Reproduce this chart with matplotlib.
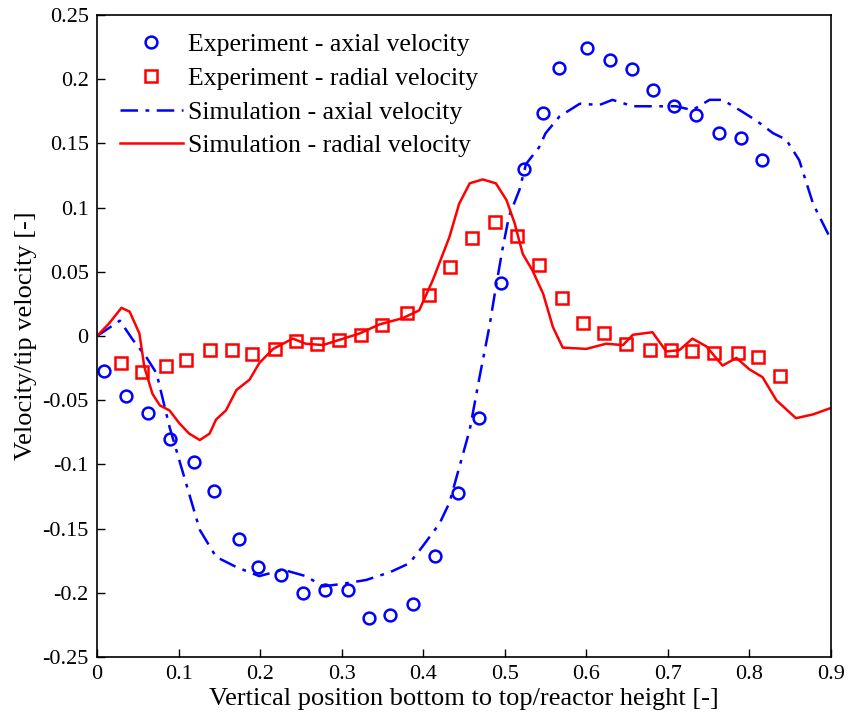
import matplotlib
matplotlib.use("Agg")
import matplotlib.pyplot as plt
import numpy as np

# measured profiles
exp_ax_x = [0.008, 0.035, 0.063, 0.089, 0.119, 0.144, 0.174, 0.198, 0.226, 0.253,
            0.279, 0.308, 0.334, 0.359, 0.388, 0.414, 0.442, 0.468, 0.495, 0.523,
            0.547, 0.567, 0.601, 0.629, 0.656, 0.682, 0.708, 0.735, 0.763, 0.790, 0.815]
exp_ax_y = [-0.027, -0.047, -0.060, -0.080, -0.098, -0.121, -0.158, -0.180, -0.186, -0.200,
            -0.198, -0.198, -0.220, -0.217, -0.209, -0.171, -0.122, -0.064, 0.041, 0.130,
            0.174, 0.209, 0.224, 0.215, 0.208, 0.192, 0.179, 0.172, 0.158, 0.154, 0.137]

exp_rad_x = [0.030, 0.055, 0.084, 0.109, 0.138, 0.165, 0.190, 0.218, 0.244, 0.270,
             0.297, 0.324, 0.350, 0.380, 0.407, 0.433, 0.460, 0.488, 0.515, 0.542,
             0.570, 0.596, 0.622, 0.649, 0.678, 0.704, 0.730, 0.757, 0.786, 0.810, 0.837]
exp_rad_y = [-0.021, -0.028, -0.023, -0.019, -0.011, -0.011, -0.014, -0.010, -0.004, -0.006,
             -0.003, 0.001, 0.009, 0.018, 0.032, 0.054, 0.076, 0.089, 0.078, 0.055,
             0.030, 0.010, 0.002, -0.006, -0.011, -0.011, -0.012, -0.013, -0.013, -0.016, -0.031]

# CFD profiles
sim_ax_x = [0.0, 0.028, 0.044, 0.060, 0.073, 0.081, 0.089, 0.101, 0.113, 0.126,
            0.146, 0.171, 0.199, 0.228, 0.256, 0.277, 0.301, 0.330, 0.359, 0.383,
            0.399, 0.420, 0.432, 0.457, 0.469, 0.481, 0.489, 0.497, 0.505, 0.518,
            0.526, 0.542, 0.550, 0.567, 0.592, 0.616, 0.632, 0.657, 0.690, 0.710,
            0.730, 0.751, 0.767, 0.788, 0.808, 0.829, 0.845, 0.861, 0.878, 0.900]
sim_ax_y = [0.0, 0.012, -0.003, -0.016, -0.029, -0.050, -0.071, -0.097, -0.123, -0.151,
            -0.172, -0.180, -0.187, -0.182, -0.187, -0.195, -0.193, -0.190, -0.184, -0.177,
            -0.164, -0.146, -0.130, -0.073, -0.032, 0.007, 0.038, 0.067, 0.093, 0.114,
            0.134, 0.147, 0.158, 0.171, 0.181, 0.180, 0.184, 0.179, 0.179, 0.179,
            0.176, 0.184, 0.184, 0.176, 0.168, 0.158, 0.153, 0.137, 0.103, 0.075]

sim_rad_x = [0.0, 0.015, 0.030, 0.040, 0.052, 0.058, 0.068, 0.077, 0.089, 0.101,
             0.113, 0.126, 0.138, 0.146, 0.158, 0.171, 0.187, 0.199, 0.216, 0.240,
             0.256, 0.277, 0.297, 0.322, 0.346, 0.375, 0.395, 0.412, 0.432, 0.444,
             0.457, 0.473, 0.489, 0.502, 0.512, 0.522, 0.534, 0.547, 0.559, 0.571,
             0.600, 0.624, 0.645, 0.657, 0.681, 0.698, 0.714, 0.730, 0.747, 0.767,
             0.784, 0.800, 0.816, 0.833, 0.857, 0.878, 0.900]
sim_rad_y = [0.0, 0.010, 0.022, 0.019, 0.002, -0.024, -0.045, -0.054, -0.058, -0.068,
             -0.076, -0.081, -0.076, -0.065, -0.058, -0.042, -0.034, -0.021, -0.010, -0.002,
             -0.006, -0.007, -0.003, 0.002, 0.009, 0.014, 0.020, 0.044, 0.077, 0.103,
             0.119, 0.122, 0.119, 0.106, 0.088, 0.064, 0.051, 0.033, 0.007, -0.009,
             -0.010, -0.006, -0.007, 0.001, 0.003, -0.012, -0.011, -0.002, -0.008, -0.023,
             -0.017, -0.026, -0.032, -0.050, -0.064, -0.061, -0.056]

plt.rcParams['font.family'] = 'Liberation Serif'
plt.rcParams['font.size'] = 16

fig = plt.figure(figsize=(8.48, 7.2), dpi=100)
ax = fig.add_axes([0.1144, 0.0875, 0.8656, 0.8915])

ax.plot(exp_ax_x, exp_ax_y, 'o', mfc='none', mec='#0000ff', mew=1.8, ms=8.5,
        label='Experiment - axial velocity')
ax.plot(exp_rad_x, exp_rad_y, 's', mfc='none', mec='#ff0000', mew=1.8, ms=8,
        label='Experiment - radial velocity')
ax.plot(sim_ax_x, sim_ax_y, color='#0000ff', lw=1.8, dashes=[7, 3, 1.5, 3],
        label='Simulation - axial velocity')
ax.plot(sim_rad_x, sim_rad_y, color='#ff0000', lw=1.8,
        label='Simulation - radial velocity')

ax.set_xlim(0, 0.9)
ax.set_ylim(-0.25, 0.25)
ax.set_xticks(np.arange(0, 0.91, 0.1))
ax.set_xticklabels(['0', '0.1', '0.2', '0.3', '0.4', '0.5', '0.6', '0.7', '0.8', '0.9'])
ax.set_yticks(np.arange(-0.25, 0.251, 0.05))
ax.set_yticklabels(['-0.25', '-0.2', '-0.15', '-0.1', '-0.05', '0',
                    '0.05', '0.1', '0.15', '0.2', '0.25'])
ax.tick_params(direction='in', length=6, width=1, labelsize=16, pad=6)
for sp in ax.spines.values():
    sp.set_linewidth(1.2)

ax.set_xlabel('Vertical position bottom to top/reactor height [-]', fontsize=19, labelpad=3)
ax.set_ylabel('Velocity/tip velocity [-]', fontsize=19, labelpad=4)

ax.legend(loc='upper left', frameon=False, fontsize=18.5, handlelength=2.45,
          handletextpad=0.2, borderaxespad=0, borderpad=0, labelspacing=0.42,
          bbox_to_anchor=(0.031, 0.972))

fig.savefig('out.png', dpi=100)
